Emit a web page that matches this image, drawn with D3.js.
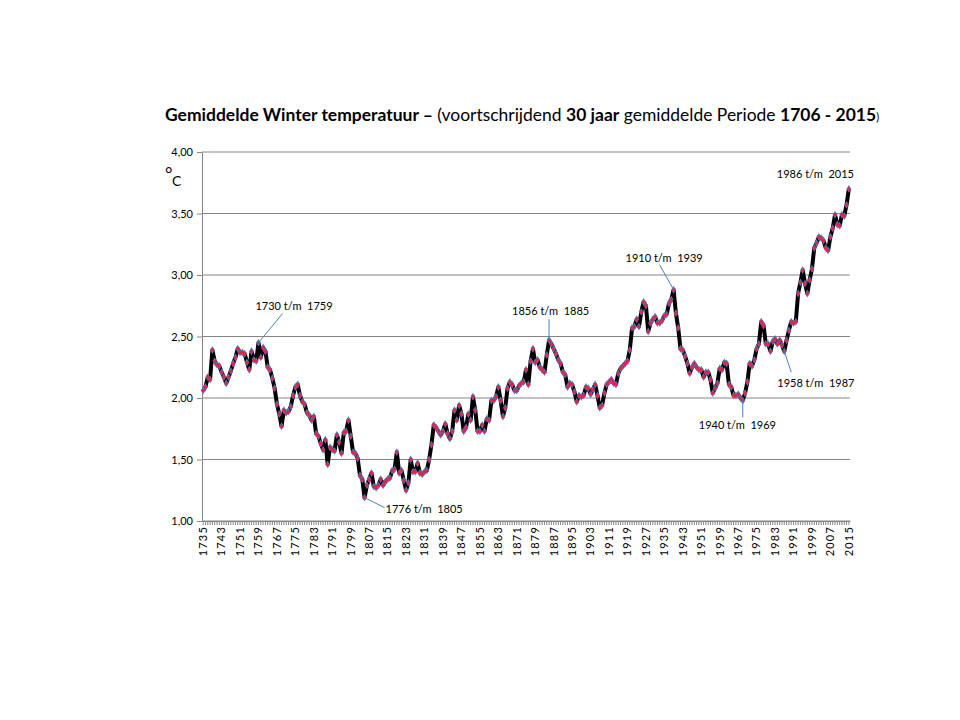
<!DOCTYPE html>
<html>
<head>
<meta charset="utf-8">
<script src="https://cdn.jsdelivr.net/npm/d3@7"></script>
<style>
  body { margin: 0; background: #fff; }
  svg { display: block; font-family: Lato, "Open Sans", sans-serif; }
</style>
</head>
<body>
<svg width="960" height="720"></svg>
<script>
// categories: one point per year
const firstYear = 1735
const lastYear = 2015
const years = d3.range(firstYear, lastYear + 1)

// 30-year running mean of winter temperature
const temps = [
  2.06, 2.09, 2.17, 2.15, 2.39, 2.30, 2.27, 2.26, 2.21, 2.17,
  2.12, 2.17, 2.22, 2.28, 2.33, 2.40, 2.37, 2.37, 2.36, 2.29,
  2.23, 2.38, 2.31, 2.30, 2.45, 2.33, 2.41, 2.38, 2.25, 2.23,
  2.16, 2.08, 1.95, 1.87, 1.77, 1.90, 1.88, 1.89, 1.93, 2.02,
  2.09, 2.11, 2.02, 1.97, 1.95, 1.88, 1.86, 1.82, 1.85, 1.71,
  1.69, 1.63, 1.58, 1.66, 1.46, 1.60, 1.58, 1.57, 1.70, 1.64,
  1.55, 1.72, 1.73, 1.82, 1.69, 1.56, 1.55, 1.51, 1.37, 1.34,
  1.19, 1.29, 1.34, 1.39, 1.28, 1.27, 1.29, 1.34, 1.29, 1.32,
  1.34, 1.35, 1.41, 1.42, 1.56, 1.39, 1.41, 1.33, 1.25, 1.31,
  1.50, 1.40, 1.40, 1.47, 1.39, 1.38, 1.40, 1.41, 1.50, 1.62,
  1.78, 1.76, 1.73, 1.70, 1.73, 1.79, 1.71, 1.67, 1.73, 1.90,
  1.82, 1.94, 1.87, 1.73, 1.76, 1.87, 1.82, 2.01, 1.90, 1.73,
  1.73, 1.78, 1.73, 1.83, 1.82, 1.98, 1.98, 2.01, 2.09, 1.98,
  1.85, 1.92, 2.08, 2.13, 2.11, 2.06, 2.06, 2.10, 2.12, 2.13,
  2.23, 2.11, 2.30, 2.40, 2.29, 2.31, 2.25, 2.23, 2.21, 2.35,
  2.47, 2.44, 2.40, 2.36, 2.31, 2.28, 2.21, 2.19, 2.09, 2.12,
  2.11, 2.05, 1.97, 2.02, 2.01, 2.02, 2.09, 2.08, 2.03, 2.07,
  2.11, 2.02, 1.92, 1.94, 2.04, 2.11, 2.13, 2.15, 2.12, 2.11,
  2.20, 2.24, 2.26, 2.28, 2.30, 2.39, 2.57, 2.58, 2.64, 2.58,
  2.70, 2.78, 2.75, 2.54, 2.61, 2.64, 2.66, 2.61, 2.61, 2.63,
  2.67, 2.68, 2.77, 2.80, 2.88, 2.69, 2.57, 2.40, 2.39, 2.34,
  2.28, 2.20, 2.25, 2.28, 2.25, 2.23, 2.23, 2.17, 2.21, 2.21,
  2.15, 2.04, 2.08, 2.12, 2.24, 2.23, 2.29, 2.28, 2.11, 2.09,
  2.02, 2.02, 2.03, 2.00, 1.98, 2.04, 2.13, 2.28, 2.26, 2.31,
  2.40, 2.44, 2.62, 2.59, 2.44, 2.44, 2.38, 2.46, 2.48, 2.44,
  2.47, 2.43, 2.38, 2.47, 2.55, 2.62, 2.61, 2.62, 2.85, 2.94,
  3.04, 2.93, 2.85, 2.96, 3.05, 3.22, 3.26, 3.31, 3.30, 3.28,
  3.22, 3.20, 3.31, 3.38, 3.49, 3.41, 3.40, 3.49, 3.48, 3.57,
  3.70
]

// tick labels
const tickYears = [1735, 1743, 1751, 1759, 1767, 1775, 1783, 1791, 1799, 1807,
  1815, 1823, 1831, 1839, 1847, 1855, 1863, 1871, 1879, 1887, 1895, 1903,
  1911, 1919, 1927, 1935, 1943, 1951, 1959, 1967, 1975, 1983, 1991, 1999,
  2007, 2015]
const yTicks = [1.0, 1.5, 2.0, 2.5, 3.0, 3.5, 4.0]

// annotated 30-year windows (label, end year)
const noteLabels = ["1730 t/m  1759", "1776 t/m  1805", "1856 t/m  1885",
  "1910 t/m  1939", "1940 t/m  1969", "1958 t/m  1987", "1986 t/m  2015"]
const noteYears = [1759, 1805, 1885, 1939, 1969, 1987, 2015]

const data = years.map((yr, i) => ({ year: yr, value: temps[i] }))

const svg = d3.select("svg")
const gridColor = "#868686"

const x = d3.scaleBand().domain(years).range([202, 850])
const px = yr => x(yr) + x.bandwidth() / 2
const y = d3.scaleLinear().domain([1, 4]).range([521, 152])

// title
const title = svg.append("text")
  .attr("x", 165).attr("y", 121)
  .style("font-size", "15px")
title.append("tspan").style("font-weight", "bold").text("Gemiddelde Winter temperatuur – ")
title.append("tspan").text("(voortschrijdend ")
title.append("tspan").style("font-weight", "bold").text("30 jaar")
title.append("tspan").text(" gemiddelde Periode ")
title.append("tspan").style("font-weight", "bold").text("1706 - 2015")
title.append("tspan").style("font-size", "11px").text(")")
// squeeze to the width seen in the picture
const tw = title.node().getComputedTextLength()
title.attr("textLength", 715).attr("lengthAdjust", "spacingAndGlyphs")
if (Math.abs(tw - 715) > 40) title.style("font-size", (15 * 715 / tw) + "px").attr("textLength", null)

// gridlines
svg.append("g")
  .selectAll("line")
  .data(yTicks)
  .enter()
  .append("line")
  .attr("x1", 202).attr("x2", 850)
  .attr("y1", d => y(d)).attr("y2", d => y(d))
  .attr("stroke", gridColor)
  .attr("stroke-width", 1)

// y axis
const fmt = d3.format(".2f")
const yAxis = svg.append("g")
  .attr("transform", "translate(202,0)")
  .call(d3.axisLeft(y).tickValues(yTicks).tickSize(5).tickSizeOuter(0)
    .tickFormat(d => fmt(d).replace(".", ",")))
yAxis.select(".domain").attr("stroke", gridColor)
yAxis.selectAll(".tick line").attr("stroke", gridColor)
yAxis.selectAll(".tick text")
  .attr("x", -9)
  .style("font-family", "Lato, sans-serif")
  .style("font-size", "11px")
  .attr("fill", "#000")

// x axis, a tick for every year
const xAxis = svg.append("g")
  .attr("transform", "translate(0,521)")
  .call(d3.axisBottom(x).tickValues(years).tickSize(4).tickSizeOuter(0)
    .tickFormat(d => tickYears.includes(d) ? d : ""))
xAxis.select(".domain").attr("stroke", gridColor)
xAxis.selectAll(".tick line").attr("stroke", gridColor)
xAxis.selectAll(".tick text")
  .attr("transform", "rotate(-90)")
  .attr("x", -5)
  .attr("y", 0)
  .attr("dy", "0.35em")
  .style("text-anchor", "end")
  .style("font-family", "Lato, sans-serif")
  .style("font-size", "11px")
  .style("letter-spacing", "1.2px")
  .attr("fill", "#000")

// unit
svg.append("text").attr("x", 165).attr("y", 180)
  .style("font-size", "18px").text("°")
svg.append("text").attr("x", 172).attr("y", 186)
  .style("font-size", "14px").text("C")

// series
const line = d3.line().x(d => px(d.year)).y(d => y(d.value))

svg.append("path")
  .datum(data)
  .attr("d", line)
  .attr("fill", "none")
  .attr("stroke", "#000")
  .attr("stroke-width", 4)
  .attr("stroke-linejoin", "round")

svg.append("g")
  .selectAll("path")
  .data(data)
  .enter()
  .append("path")
  .attr("d", d3.symbol(d3.symbolDiamond, 18))
  .attr("transform", d => `translate(${px(d.year)},${y(d.value)})`)
  .attr("fill", "#4a78c8")

svg.append("g")
  .selectAll("circle")
  .data(data)
  .enter()
  .append("circle")
  .attr("cx", d => px(d.year))
  .attr("cy", d => y(d.value))
  .attr("r", 1.7)
  .attr("fill", "#f0203a")

// annotations: label offset and leader end, relative to the point
const noteLayout = [
  { tx: -3, ty: -37, lx: 24, ly: -29 },
  { tx: 21, ty: 12, lx: 20, ly: 10 },
  { tx: -37, ty: -29, lx: 0, ly: -21 },
  { tx: -48, ty: -32, lx: -14, ly: -25 },
  { tx: -44, ty: 25, lx: 0, ly: 17 },
  { tx: -7, ty: 32, lx: 7, ly: 21 },
  { tx: -72, ty: -15, lx: 0, ly: 0 }
]

const notes = svg.append("g")
noteYears.forEach((yr, i) => {
  const cx = px(yr)
  const cy = y(temps[years.indexOf(yr)])
  const l = noteLayout[i]
  if (l.lx !== 0 || l.ly !== 0) {
    notes.append("line")
      .attr("x1", cx).attr("y1", cy)
      .attr("x2", cx + l.lx).attr("y2", cy + l.ly)
      .attr("stroke", "#4f81bd")
      .attr("stroke-width", 1)
  }
  notes.append("text")
    .attr("x", cx + l.tx)
    .attr("y", cy + l.ty)
    .attr("dy", "0.35em")
    .style("font-size", "11px")
    .style("white-space", "pre")
    .text(noteLabels[i])
})
</script>
</body>
</html>
